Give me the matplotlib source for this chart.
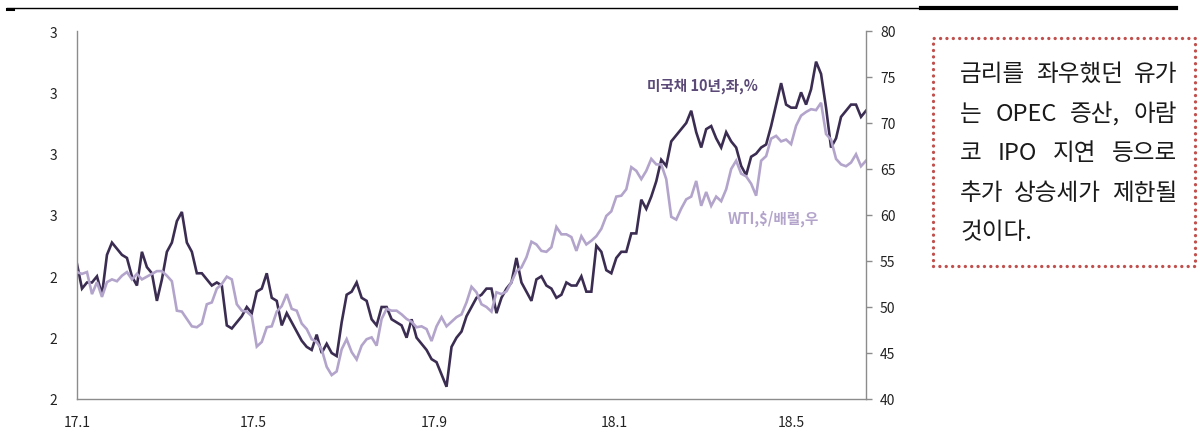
import matplotlib
matplotlib.use("Agg")
import matplotlib.pyplot as plt
import matplotlib.dates as mdates
from matplotlib.transforms import IdentityTransform
from matplotlib.lines import Line2D
from matplotlib.patches import Rectangle
import pandas as pd

plt.rcParams['font.family'] = ['Noto Sans CJK KR', 'DejaVu Sans']

# ---------------- data ----------------
start_date = "2017-01-01"
end_date = "2018-06-21"

tick_dates = ["2017-01-01", "2017-05-01", "2017-09-01", "2018-01-01", "2018-05-01"]
tick_labels = ["17.1", "17.5", "17.9", "18.1", "18.5"]

ust10y = [
    2.44, 2.36, 2.38, 2.38, 2.40, 2.34, 2.47, 2.51, 2.49, 2.47,
    2.46, 2.40, 2.37, 2.48, 2.43, 2.41, 2.32, 2.39, 2.48, 2.51,
    2.58, 2.61, 2.51, 2.48, 2.41, 2.41, 2.39, 2.37, 2.38, 2.37,
    2.24, 2.23, 2.25, 2.27, 2.30, 2.28, 2.35, 2.36, 2.41, 2.33,
    2.32, 2.24, 2.28, 2.25, 2.22, 2.19, 2.17, 2.16, 2.21, 2.15,
    2.18, 2.15, 2.14, 2.25, 2.34, 2.35, 2.38, 2.33, 2.32, 2.26,
    2.24, 2.30, 2.30, 2.26, 2.25, 2.24, 2.20, 2.26, 2.20, 2.18,
    2.16, 2.13, 2.12, 2.08, 2.04, 2.17, 2.20, 2.22, 2.27, 2.30,
    2.33, 2.34, 2.36, 2.36, 2.28, 2.33, 2.36, 2.38, 2.46, 2.38,
    2.35, 2.32, 2.39, 2.40, 2.37, 2.36, 2.33, 2.34, 2.38, 2.37,
    2.37, 2.40, 2.35, 2.35, 2.50, 2.48, 2.42, 2.41, 2.46, 2.48,
    2.48, 2.54, 2.54, 2.65, 2.62, 2.66, 2.71, 2.78, 2.76, 2.84,
    2.86, 2.88, 2.90, 2.94, 2.87, 2.82, 2.88, 2.89, 2.85, 2.82,
    2.87, 2.84, 2.82, 2.76, 2.73, 2.79, 2.80, 2.82, 2.83, 2.89,
    2.96, 3.03, 2.96, 2.95, 2.95, 3.00, 2.96, 3.01, 3.10, 3.06,
    2.95, 2.82, 2.85, 2.92, 2.94, 2.96, 2.96, 2.92, 2.94,
]

wti = [
    53.8, 53.6, 53.8, 51.4, 52.7, 51.1, 52.7, 53.0, 52.8, 53.4,
    53.8, 53.0, 53.6, 53.0, 53.3, 53.6, 53.9, 53.9, 53.4, 52.8,
    49.6, 49.5, 48.7, 47.9, 47.8, 48.2, 50.3, 50.5, 52.0, 52.5,
    53.3, 53.0, 50.3, 49.6, 49.5, 49.0, 45.7, 46.2, 47.8, 47.9,
    49.5, 50.1, 51.4, 49.8, 49.6, 48.2, 47.6, 46.5, 46.2, 45.4,
    43.5, 42.6, 43.0, 45.4, 46.5, 45.1, 44.3, 45.8, 46.5, 46.7,
    45.8, 48.7, 49.8, 49.6, 49.6, 49.2, 48.7, 48.4, 47.8, 47.9,
    47.6, 46.3, 47.9, 48.9, 47.9, 48.4, 48.9, 49.2, 50.5, 52.2,
    51.6, 50.3, 50.0, 49.5, 51.6, 51.4, 51.7, 52.7, 53.9, 54.3,
    55.4, 57.1, 56.8, 56.1, 56.0, 56.5, 58.7, 57.9, 57.9, 57.6,
    56.1, 57.7, 56.8, 57.2, 57.7, 58.5, 59.9, 60.4, 62.0, 62.1,
    62.8, 65.2, 64.8, 63.9, 64.8, 66.1, 65.5, 65.5, 63.9, 59.8,
    59.5, 60.7, 61.7, 62.0, 63.7, 61.0, 62.5, 61.0, 62.0, 61.5,
    62.8, 65.0, 65.9, 64.5, 64.2, 63.4, 62.1, 65.9, 66.4, 68.3,
    68.6, 68.0, 68.2, 67.7, 69.7, 70.8, 71.2, 71.5, 71.4, 72.2,
    68.8, 68.2, 66.1, 65.5, 65.3, 65.7, 66.6, 65.3, 65.9,
]

label_ust = "미국채 10년,좌,%"
label_wti = "WTI,$/배럴,우"

box_lines = [
    "금리를 좌우했던 유가",
    "는 OPEC 증산, 아람",
    "코 IPO 지연 등으로",
    "추가 상승세가 제한될",
    "것이다.",
]

# ---------------- figure ----------------
W, H = 1198, 431
fig = plt.figure(figsize=(W / 100, H / 100), dpi=100)
fig.patch.set_facecolor("white")

ax = fig.add_axes([77 / W, (H - 400) / H, 789 / W, 368 / H])
ax2 = ax.twinx()

dates = pd.date_range(start_date, end_date, periods=len(ust10y))

dark = "#3b2d52"
light = "#b3a4cb"

ax.plot(dates, ust10y, color=dark, lw=1.9, solid_joinstyle="miter")
ax2.plot(dates, wti, color=light, lw=1.9, solid_joinstyle="miter")

ax.set_xlim(pd.Timestamp(start_date), pd.Timestamp(end_date))
ax.set_ylim(2.0, 3.2)
ax2.set_ylim(40, 80)

ax.set_yticks([2.0, 2.2, 2.4, 2.6, 2.8, 3.0, 3.2])
ax.yaxis.set_major_formatter(matplotlib.ticker.FormatStrFormatter("%.0f"))
ax2.set_yticks(range(40, 81, 5))

ax.set_xticks([mdates.date2num(pd.Timestamp(d)) for d in tick_dates])
ax.set_xticklabels(tick_labels)

spine_col = "#8c8c8c"
for a in (ax, ax2):
    a.spines["top"].set_visible(False)
    for s in ("left", "right", "bottom"):
        a.spines[s].set_color(spine_col)
        a.spines[s].set_linewidth(1.0)
ax.spines["right"].set_visible(False)
ax2.spines["left"].set_visible(False)
ax2.spines["bottom"].set_visible(False)

ax.tick_params(axis="y", length=0, pad=14, labelsize=10, labelcolor="#222222")
ax.tick_params(axis="x", length=0, pad=11.5, labelsize=10, labelcolor="#222222")
ax2.tick_params(axis="y", length=4, width=1.0, color=spine_col, pad=6,
                labelsize=10, labelcolor="#222222")

ax2.text((647 - 77) / 789, (400 - 86) / 368, label_ust, transform=ax.transAxes,
         color="#5b4a78", fontsize=10.5, fontweight="bold", va="center", ha="left")
ax2.text((728 - 77) / 789, (400 - 219) / 368, label_wti, transform=ax.transAxes,
         color=light, fontsize=10.5, fontweight="bold", va="center", ha="left")

# ---------------- top decoration lines ----------------
fig.add_artist(Line2D([7, 921], [H - 8.5, H - 8.5], transform=IdentityTransform(),
                      color="black", lw=1.0))
fig.add_artist(Line2D([921, 1176], [H - 9, H - 9], transform=IdentityTransform(),
                      color="black", lw=3.0))
fig.add_artist(Line2D([7, 13], [H - 9.5, H - 9.5], transform=IdentityTransform(),
                      color="black", lw=2.2))

# ---------------- dotted text box ----------------
box = Rectangle((933, H - 267), 1195 - 933, 267 - 39, transform=IdentityTransform(),
                fill=False, edgecolor="#c0504d", lw=2.4,
                linestyle=(0, (0.01, 1.9)))
box.set_capstyle("round")
fig.add_artist(box)

fig.canvas.draw()
renderer = fig.canvas.get_renderer()
x0, x1 = 960, 1177
line_y = [72, 112, 151, 191, 230]
for i, (txt, yc) in enumerate(zip(box_lines, line_y)):
    words = txt.split(" ")
    objs = [fig.text(0, 0, w, transform=IdentityTransform(), fontsize=17,
                     color="#1a1a1a", va="center_baseline", ha="left")
            for w in words]
    widths = [o.get_window_extent(renderer).width for o in objs]
    justify = i < len(box_lines) - 1 and len(words) > 1
    gap = (x1 - x0 - sum(widths)) / (len(words) - 1) if justify else 6
    x = x0
    for o, wd in zip(objs, widths):
        o.set_position((x, H - yc))
        x += wd + gap

fig.savefig("out.png", dpi=100, facecolor="white")
